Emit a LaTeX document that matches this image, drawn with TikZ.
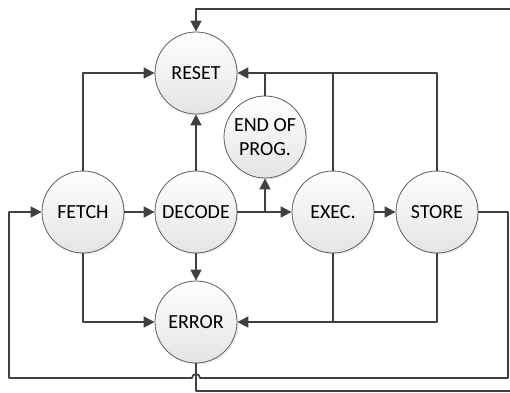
\documentclass[tikz,border=0pt]{standalone}
\usepackage{fontspec}
\setmainfont{Carlito}
\usetikzlibrary{arrows.meta,shadows}
\definecolor{linegray}{RGB}{64,64,64}
\definecolor{ringgray}{RGB}{95,95,95}
\definecolor{fillgray}{RGB}{228,228,228}
\tikzset{state/.style={circle,draw=ringgray,line width=0.8pt,minimum size=82pt,inner sep=0pt,
    top color=white,bottom color=fillgray,align=center,
    drop shadow={shadow xshift=1.5pt,shadow yshift=-1.5pt,opacity=0.15},
    font=\fontsize{20}{24}\selectfont},
  wire/.style={draw=linegray,line width=1.7pt}}

\begin{document}
\begin{tikzpicture}[line cap=round,line join=round,>={Triangle[length=11pt,width=11pt]},x=1pt,y=-1pt]
      \useasboundingbox (0,0) rectangle (510,392);
      \node[state] (reset) at (196,73) {RESET};
      \node[state] (fetch) at (83,212) {FETCH};
      \node[state] (decode) at (196,212) {DECODE};
      \node[state] (endprog) at (265,137) {END OF\\PROG.};
      \node[state] (exec) at (333,212) {EXEC.};
      \node[state] (store) at (437,212) {STORE};
      \node[state] (error) at (196,322) {ERROR};
      \coordinate (topend) at (510,9);
      \coordinate (botend) at (510,391);
      \coordinate (rdown) at (508,378);
      \coordinate (ldown) at (9,378);
      \coordinate (hop) at (200,378);
      \coordinate (split) at (endprog.south |- decode.east);
      \draw [wire,->] (topend) -| (reset.north);
      \draw [wire,->] (fetch.north) |- (reset.west);
      \draw [wire,->] (fetch.south) |- (error.west);
      \draw [wire,->] (fetch) -- (decode);
      \draw [wire,->] (decode) -- (reset);
      \draw [wire,->] (decode) -- (error);
      \draw [wire,->] (decode) -- (exec);
      \draw [wire,->] (split) -- (endprog);
      \draw [wire,->] (exec) -- (store);
      \draw [wire] (endprog.north) -- (endprog.north |- reset.east);
      \draw [wire] (exec.north) -- (exec.north |- reset.east);
      \draw [wire,->] (store.north) |- (reset.east);
      \draw [wire] (exec.south) -- (exec.south |- error.east);
      \draw [wire,->] (store.south) |- (error.east);
      \draw [wire,->] (store.east) -| (rdown) -- (hop) arc[start angle=0,end angle=-180,radius=4] -- (ldown) |- (fetch.west);
      \draw [wire] (error.south) |- (botend);
    \end{tikzpicture}
\end{document}
